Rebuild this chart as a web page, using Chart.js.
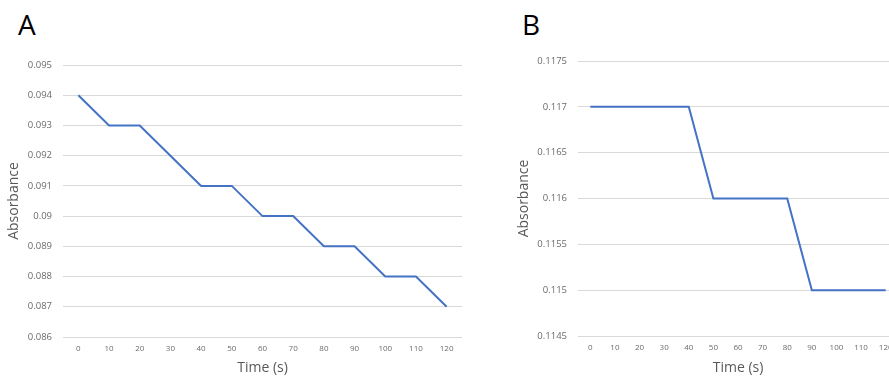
<!DOCTYPE html>
<html>
<head>
<meta charset="utf-8">
<script src="https://cdn.jsdelivr.net/npm/chart.js@4/dist/chart.umd.min.js"></script>
<style>
  html, body { margin: 0; padding: 0; background: #fff; overflow: hidden; width: 889px; height: 378px; }
  .panel { position: absolute; top: 0; height: 378px; }
  .letter { position: absolute; font-family: "Open Sans", "Liberation Sans", sans-serif; font-size: 28px; line-height: 28px; color: #000; top: 10px; }
</style>
</head>
<body>
<div class="letter" style="left:18px">A</div>
<div class="letter" style="left:522px">B</div>
<div class="panel" style="left:0; width:475px"><canvas id="chartA"></canvas></div>
<div class="panel" style="left:510px; width:400px"><canvas id="chartB"></canvas></div>
<script>
// Data
const times = ['0', '10', '20', '30', '40', '50', '60', '70', '80', '90', '100', '110', '120'];
const absorbanceA = [0.094, 0.093, 0.093, 0.092, 0.091, 0.091, 0.090, 0.090, 0.089, 0.089, 0.088, 0.088, 0.087];
const absorbanceB = [0.117, 0.117, 0.117, 0.117, 0.117, 0.116, 0.116, 0.116, 0.116, 0.115, 0.115, 0.115, 0.115];
const yRangeA = [0.086, 0.095, 0.001];   // min, max, step
const yRangeB = [0.1145, 0.1175, 0.0005];

const tickColor = '#6b6b6b';
const titleColor = '#595959';
const gridColor = '#d9d9d9';
const fontFamily = '"Open Sans", "Liberation Sans", sans-serif';

function makeChart(id, values, range, yWidth, xHeight, padTop, padRight) {
  const ctx = document.getElementById(id).getContext('2d');
  return new Chart(ctx, {
    type: 'line',
    data: {
      labels: times,
      datasets: [{
        data: values,
        borderColor: '#4472C4',
        borderWidth: 2,
        pointRadius: 0,
        tension: 0,
        fill: false,
      }]
    },
    options: {
      responsive: true,
      maintainAspectRatio: false,
      animation: false,
      layout: { padding: { top: padTop, right: padRight, left: 0, bottom: 0 } },
      plugins: { legend: { display: false }, tooltip: { enabled: false } },
      scales: {
        x: {
          offset: true,
          grid: { display: false, drawTicks: false },
          border: { display: false },
          ticks: { color: tickColor, font: { family: fontFamily, size: 8 }, padding: 7, maxRotation: 0, autoSkip: false },
          title: { display: true, text: 'Time (s)', color: titleColor, font: { family: fontFamily, size: 14 }, padding: { top: 0, bottom: 2 } },
          afterFit: (scale) => { scale.height = xHeight; }
        },
        y: {
          min: range[0],
          max: range[1],
          grid: { color: gridColor, lineWidth: 1, drawTicks: false },
          border: { display: false },
          ticks: {
            stepSize: range[2],
            color: tickColor,
            font: { family: fontFamily, size: 9.5 },
            padding: 11,
            callback: (v) => String(Number(v.toFixed(5)))
          },
          title: { display: true, text: 'Absorbance', color: titleColor, font: { family: fontFamily, size: 14 }, padding: { top: 6, bottom: 0 } },
          afterFit: (scale) => { scale.width = yWidth; }
        }
      }
    }
  });
}

makeChart('chartA', absorbanceA, yRangeA, 63, 41, 65, 13);
makeChart('chartB', absorbanceB, yRangeB, 68, 42, 61, 12);
</script>
</body>
</html>
